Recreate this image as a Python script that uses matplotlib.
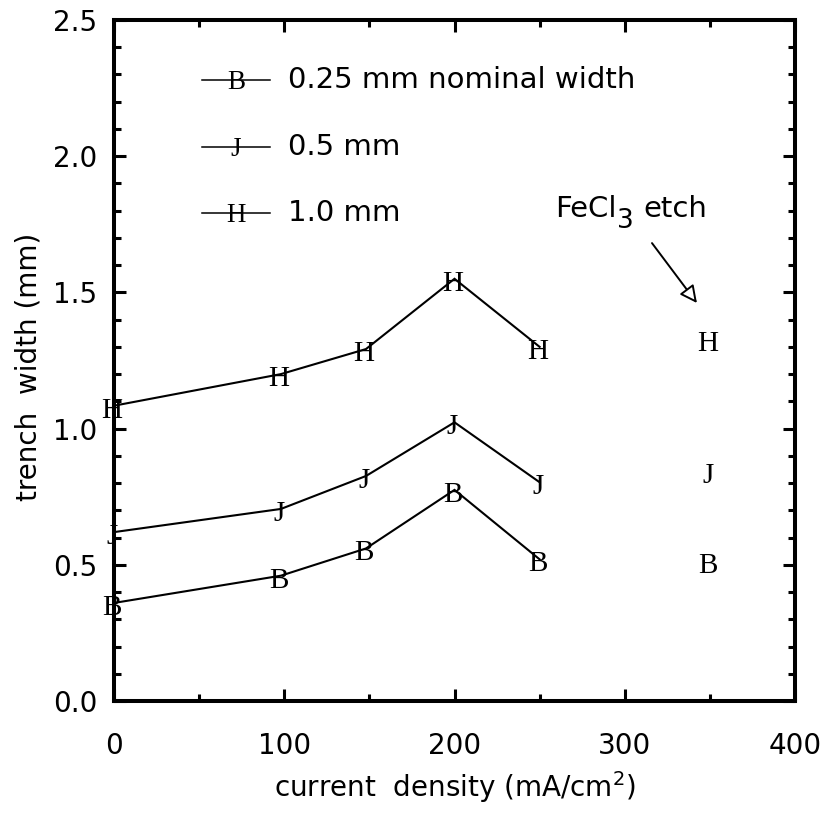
import matplotlib
matplotlib.use("Agg")
import matplotlib.pyplot as plt
from matplotlib.ticker import MultipleLocator
from matplotlib.transforms import offset_copy

# ---- data ----
current_density = [0, 98, 148, 200, 250]
width_025 = [0.36, 0.46, 0.56, 0.775, 0.52]
width_05 = [0.62, 0.705, 0.826, 1.023, 0.803]
width_10 = [1.084, 1.20, 1.292, 1.55, 1.30]

fecl3_x = [350]
fecl3_025 = [0.515]
fecl3_05 = [0.845]
fecl3_10 = [1.33]

series_glyphs = ["B", "J", "H"]
series_labels = ["0.25 mm nominal width", "0.5 mm", "1.0 mm"]
x_ticks = [0, 100, 200, 300, 400]
y_ticks = [0.0, 0.5, 1.0, 1.5, 2.0, 2.5]

plt.rcParams['font.family'] = ['DejaVu Sans']
plt.rcParams['mathtext.default'] = 'regular'

fig = plt.figure(figsize=(8.25, 8.15), dpi=100)
ax = fig.add_axes([114/825, 1 - 701/815, 681/825, 681/815])

SERIF = 'Liberation Serif'
GLYPH_SIZE = 21

series = [width_025, width_05, width_10]
fecl3 = [fecl3_025, fecl3_05, fecl3_10]

for vals, glyph, iso in zip(series, series_glyphs, fecl3):
    ax.plot(current_density, vals, color='black', lw=1.5, solid_joinstyle='miter')
    for xv, yv in zip(current_density + fecl3_x, vals + iso):
        ax.annotate(glyph, (xv, yv), xytext=(-2, -12), textcoords='offset pixels',
                    ha='center', va='baseline', family=SERIF, fontsize=GLYPH_SIZE,
                    color='black', annotation_clip=False)

# legend (manual)
leg_y = [0.912, 0.8135, 0.7166]
for glyph, label, yy in zip(series_glyphs, series_labels, leg_y):
    ax.plot([0.129, 0.229], [yy, yy], transform=ax.transAxes, color='black', lw=1.1)
    ax.annotate(glyph, (0.179, yy), xycoords='axes fraction', xytext=(0, -9),
                textcoords='offset pixels', ha='center', va='baseline',
                family=SERIF, fontsize=19.5, color='black')
    ax.text(0.2555, yy, label, transform=ax.transAxes, ha='left', va='center',
            fontsize=21)

ax.set_xlim(0, 400)
ax.set_ylim(0, 2.5)

# annotation "FeCl3 etch" with a large, low subscript
t1 = ax.text(259, 1.777, 'FeCl', ha='left', va='baseline', fontsize=21)
fig.canvas.draw()
r = fig.canvas.get_renderer()
w1 = t1.get_window_extent(r).width
t2 = ax.text(259, 1.777, '3', ha='left', va='baseline', fontsize=19,
             transform=offset_copy(ax.transData, fig=fig, x=w1 + 1, y=-11, units='dots'))
w2 = t2.get_window_extent(r).width
ax.text(259, 1.777, 'etch', ha='left', va='baseline', fontsize=21,
        transform=offset_copy(ax.transData, fig=fig, x=w1 + w2 + 10, y=0, units='dots'))
ax.annotate('', xy=(342.4, 1.461), xytext=(316, 1.681),
            arrowprops=dict(arrowstyle='-|>', fc='white', ec='black', lw=1.4,
                            mutation_scale=26, shrinkA=0, shrinkB=0))

ax.set_xticks(x_ticks)
ax.set_yticks(y_ticks)
ax.set_yticklabels([f"{v:.1f}" for v in y_ticks])
ax.xaxis.set_minor_locator(MultipleLocator(50))
ax.yaxis.set_minor_locator(MultipleLocator(0.1))

for s in ax.spines.values():
    s.set_linewidth(2.9)
ax.tick_params(which='both', direction='in', top=True, right=True, width=2.2,
               labelsize=20)
ax.tick_params(which='major', length=8.6)
ax.tick_params(which='minor', length=5)
ax.tick_params(axis='x', which='major', pad=22)
ax.tick_params(axis='y', which='major', pad=12)

ax.set_xlabel(r'current  density (mA/cm$^2$)', fontsize=20)
ax.set_ylabel('trench  width (mm)', fontsize=20)
ax.xaxis.set_label_coords(0.5, -0.10)
ax.yaxis.set_label_coords(-0.105, 0.49)

fig.savefig('out.png', dpi=100)
